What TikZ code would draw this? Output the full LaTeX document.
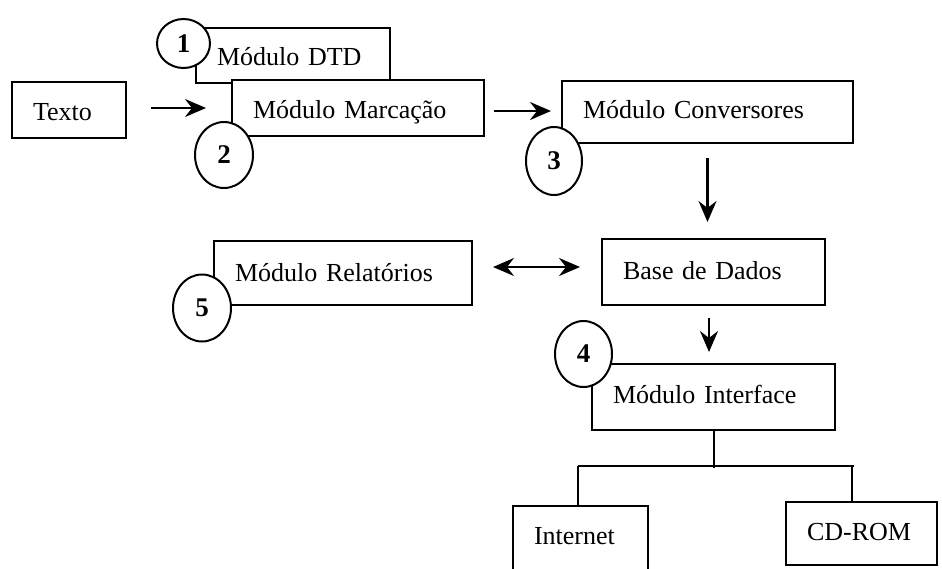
\documentclass[tikz,border=0pt]{standalone}
\usepackage{fontspec}
\setmainfont{Liberation Serif}
\usetikzlibrary{shapes.geometric,arrows.meta,calc}
\begin{document}
\begin{tikzpicture}[x=1pt,y=-1pt,
  every node/.style={font=\fontsize{26}{30}\selectfont},
  box/.style={draw, fill=white, line width=2pt, inner xsep=21pt, inner ysep=0pt,
              align=left, text depth=6pt, text height=20pt},
  num/.style={draw, fill=white, ellipse, line width=2pt, inner sep=0pt,
              font=\fontsize{27}{30}\selectfont\bfseries},
  tip/.tip={Stealth[length=21pt,width=18pt,inset=7pt]},
  arr/.style={line width=2.2pt, -tip},
  darr/.style={line width=2.2pt, tip-tip},
  tline/.style={line width=2pt}]
\useasboundingbox (0,0) rectangle (942,568);
\clip (0,0) rectangle (942,568);

\node[box, text width=72pt, minimum height=56pt, text height=26pt] (texto) at (69,110) {Texto};
\node[box, text width=152pt, minimum height=55pt, text height=25pt] (dtd) at (293,55.5) {Módulo DTD};
\node[num, minimum width=53pt, minimum height=49pt] (n1) at (183.5,43.5) {1};
\node[box, text width=210pt, minimum height=56pt, text height=26pt] (marc) at (358,108) {Módulo Marcação};
\node[num, minimum width=58pt, minimum height=66pt] (n2) at (224,155) {2};
\node[box, text width=249pt, minimum height=62pt, text height=18pt] (conv) at (707.5,112) {Módulo Conversores};
\node[num, minimum width=56pt, minimum height=68pt] (n3) at (554,161) {3};
\node[box, text width=181pt, minimum height=66pt, text height=20pt] (base) at (713.5,272) {Base de Dados};
\node[box, text width=216pt, minimum height=64pt, text height=22pt] (rel) at (343,273) {Módulo Relatórios};
\node[num, minimum width=58pt, minimum height=67pt] (n5) at (202,308) {5};
\node[box, text width=201pt, minimum height=66pt, text height=18pt] (iface) at (713.5,397) {Módulo Interface};
\node[num, minimum width=57pt, minimum height=66pt] (n4) at (583.5,354) {4};
\node[box, text width=93pt, minimum height=72pt, text height=10pt] (inet) at (580.5,542) {Internet};
\node[box, text width=109pt, minimum height=63pt, text height=19pt] (cdrom) at (861.5,533.5) {CD-ROM};

% arrows
\draw[arr, shorten <=24pt, shorten >=25pt] (texto.east |- marc.center) -- (marc.west);
\draw[arr, shorten <=9pt, shorten >=10pt] ([yshift=-3pt]marc.east) -- ([yshift=-3pt]marc.east -| conv.west);
\draw[arr, shorten <=14pt, shorten >=16pt] (conv.south) -- (conv.south |- base.north);
\draw[darr, shorten <=20pt, shorten >=21pt] ([yshift=6pt]rel.east) -- ([yshift=6pt]rel.east -| base.west);
\draw[arr, shorten <=12pt, shorten >=11pt] ([xshift=-4.5pt]base.south) -- ([xshift=-4.5pt]base.south |- iface.north);

% tree
\coordinate (j) at ($(iface.south)+(0,37)$);
\coordinate (jl) at ($(inet.north)+(-2.5,-39)$);
\coordinate (jr) at ($(cdrom.north)+(-9.5,-35)$);
\draw[tline] (iface.south) -- (j);
\draw[tline] (jl) -- ([xshift=2pt]jr);
\draw[tline] (jl) -- ([xshift=-2.5pt]inet.north);
\draw[tline] (jr) -- ([xshift=-9.5pt]cdrom.north);
\end{tikzpicture}
\end{document}
